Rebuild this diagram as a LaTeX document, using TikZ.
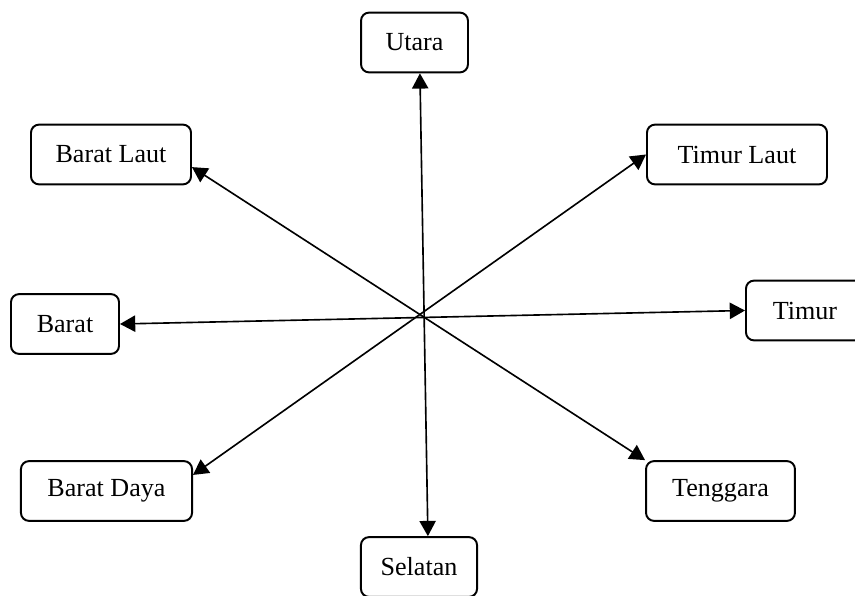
\documentclass[tikz,border=0pt]{standalone}
\usepackage{fontspec}
\setmainfont{Liberation Serif}
\usetikzlibrary{arrows.meta}

\tikzset{
    kotak/.style={draw, rectangle, rounded corners=3.7pt, line width=0.9pt, minimum height=27.5pt, font=\fontsize{12}{14}\selectfont},
    arah/.style={<->, >={Triangle[length=7pt, width=7.5pt]}, line width=0.75pt}
}

\begin{document}
\begin{tikzpicture}[x=0.46pt, y=-0.46pt]
        \useasboundingbox (0,0) rectangle (855,596);

        \node[kotak, minimum width=49.2pt] (U) at (414.5,42.5) {Utara};
        \node[kotak, minimum width=73.6pt] (BL) at (111,154.5) {Barat Laut};
        \node[kotak, minimum width=82.8pt] (TL) at (737,154.5) {Timur Laut};
        \node[kotak, minimum width=49.7pt] (B) at (65,324) {Barat};
        \node[kotak, minimum width=54.3pt] (T) at (805,310.5) {Timur};
        \node[kotak, minimum width=78.7pt] (BD) at (106.5,491) {Barat Daya};
        \node[kotak, minimum width=68.5pt] (TG) at (720.5,491) {Tenggara};
        \node[kotak, minimum width=53.4pt] (S) at (419,567) {Selatan};

        \draw[arah] ([xshift=2.5pt]U.south) -- ([xshift=4.1pt]S.north);
        \draw[arah] ([yshift=-5.8pt]BL.east) -- (TG.north west);
        \draw[arah] (TL.west) -- ([yshift=7.4pt]BD.east);
        \draw[arah] (B.east) -- (T.west);
    \end{tikzpicture}
\end{document}
